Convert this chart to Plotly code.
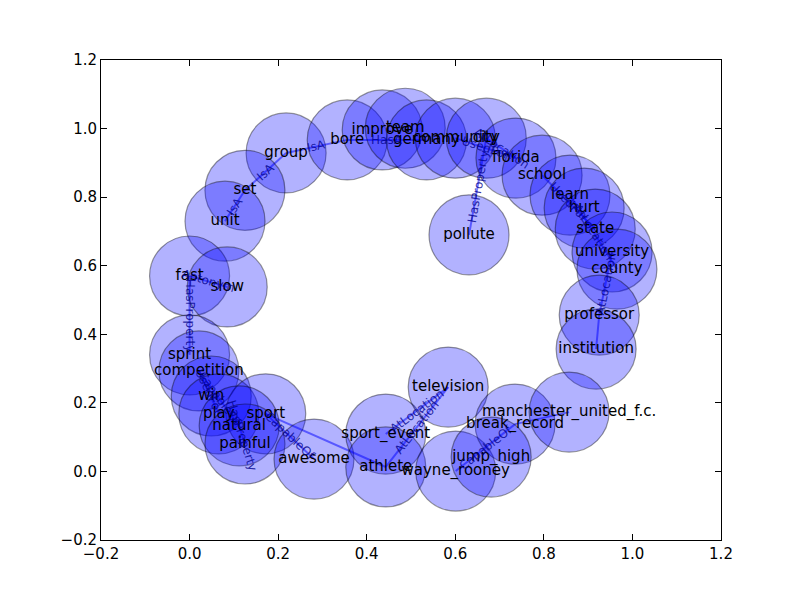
import math
import plotly.graph_objects as go

# node names and positions
nodes = ["group", "bore", "improve", "team", "germany", "community", "city",
         "florida", "school", "learn", "hurt", "state", "university", "county",
         "professor", "institution", "pollute", "set", "unit", "fast", "slow",
         "sprint", "competition", "win", "play", "sport", "natural", "painful",
         "awesome", "sport_event", "athlete", "wayne_rooney", "television",
         "break_record", "manchester_united_f.c.", "jump_high"]
node_x = [0.218, 0.356, 0.435, 0.487, 0.535, 0.600, 0.670, 0.737, 0.796, 0.859,
          0.891, 0.916, 0.954, 0.965, 0.925, 0.918, 0.631, 0.125, 0.080, 0.0,
          0.085, 0.0, 0.021, 0.049, 0.066, 0.172, 0.112, 0.125, 0.281, 0.443,
          0.443, 0.601, 0.584, 0.735, 0.857, 0.681]
node_y = [0.929, 0.967, 0.996, 1.001, 0.967, 0.972, 0.972, 0.914, 0.864, 0.806,
          0.768, 0.707, 0.640, 0.590, 0.456, 0.357, 0.690, 0.820, 0.730, 0.570,
          0.538, 0.340, 0.293, 0.220, 0.168, 0.168, 0.133, 0.080, 0.036, 0.109,
          0.013, 0.001, 0.246, 0.138, 0.173, 0.042]

edges = [("set", "unit", "IsA"), ("group", "set", "IsA"), ("group", "bore", "IsA"),
         ("bore", "germany", "HasA"), ("community", "florida", "UsedFor"),
         ("city", "florida", "AtLocation"), ("pollute", "city", "HasProperty"),
         ("school", "state", "UsedFor"), ("learn", "county", "AtLocation"),
         ("university", "professor", "AtLocation"), ("professor", "institution", ""),
         ("fast", "sprint", "HasProperty"), ("fast", "slow", "Antonym"),
         ("competition", "play", "UsedFor"), ("competition", "natural", "CapableOf"),
         ("sport", "awesome", "CapableOf"), ("natural", "painful", "HasProperty"),
         ("sport", "athlete", ""), ("athlete", "television", "AtLocation"),
         ("sport_event", "television", "AtLocation"),
         ("wayne_rooney", "break_record", "CapableOf"),
         ("break_record", "manchester_united_f.c.", "")]

pos = {n: (x, y) for n, x, y in zip(nodes, node_x, node_y)}
fig = go.Figure()

ex, ey = [], []
for a, b, _ in edges:
    ex += [pos[a][0], pos[b][0], None]
    ey += [pos[a][1], pos[b][1], None]
fig.add_trace(go.Scatter(x=ex, y=ey, mode="lines",
                         line=dict(color="rgba(0,0,255,0.5)", width=2),
                         hoverinfo="skip"))

fig.add_trace(go.Scatter(x=node_x, y=node_y, mode="markers+text", text=nodes,
                         textposition="middle center",
                         textfont=dict(size=15, color="black"),
                         marker=dict(size=80, color="rgba(0,0,255,0.3)",
                                     line=dict(color="rgba(0,0,0,0.4)", width=1.2))))

# edge labels, rotated along the edge
for a, b, lab in edges:
    if not lab:
        continue
    (x0, y0), (x1, y1) = pos[a], pos[b]
    dx, dy = (x1 - x0) * 442.86, (y1 - y0) * 342.86
    ang = -math.degrees(math.atan2(dy, dx))
    if ang > 90:
        ang -= 180
    if ang < -90:
        ang += 180
    fig.add_annotation(x=(x0 + x1) / 2, y=(y0 + y1) / 2, text=lab,
                       showarrow=False, textangle=ang,
                       font=dict(size=12, color="rgba(0,0,140,0.8)"))

ax = dict(range=[-0.2, 1.2], dtick=0.2, tickformat=".1f", showgrid=False,
          zeroline=False, showline=True, mirror="ticks", linecolor="black",
          ticks="inside", ticklen=6, tickcolor="black",
          tickfont=dict(size=15, color="black"))
fig.update_xaxes(**ax)
fig.update_yaxes(**ax)
fig.update_layout(width=800, height=600, showlegend=False,
                  plot_bgcolor="white", paper_bgcolor="white",
                  font=dict(family="DejaVu Sans"),
                  margin=dict(l=93, r=87, t=52, b=68))
fig.write_html("out.html")
